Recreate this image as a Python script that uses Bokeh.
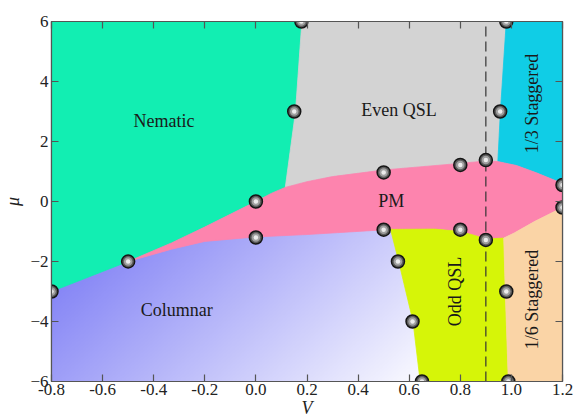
import numpy as np
from bokeh.plotting import figure
from bokeh.models import LinearAxis, FixedTicker, Range1d, NumeralTickFormatter, CustomJSTickFormatter
from bokeh.embed import file_html
from bokeh.resources import INLINE
from bokeh.core.properties import value

# ---------------- data ----------------
V_range = (-0.8, 1.2)
mu_range = (-6.0, 6.0)
x_ticks = [-0.8, -0.6, -0.4, -0.2, 0.0, 0.2, 0.4, 0.6, 0.8, 1.0, 1.2]
y_ticks = [-6, -4, -2, 0, 2, 4, 6]

# upper boundary of PM phase
pm_top_V = [-0.5, -0.33, -0.2, 0.0, 0.06, 0.115, 0.2, 0.3, 0.5, 0.8, 0.9, 0.947, 1.02, 1.1, 1.2]
pm_top_mu = [-2.0, -1.38, -0.85, 0.0, 0.27, 0.47, 0.66, 0.83, 1.05, 1.27, 1.35, 1.33, 1.2, 0.95, 0.6]
# lower boundary of PM phase
pm_bot_V = [-0.5, -0.33, -0.2, 0.0, 0.2, 0.527, 0.7, 0.8, 0.856, 0.9, 0.97, 1.011, 1.09, 1.2]
pm_bot_mu = [-2.0, -1.59, -1.33, -1.18, -1.1, -0.93, -0.92, -1.0, -1.13, -1.25, -1.22, -1.05, -0.67, -0.2]
# Nematic / Even QSL boundary
nem_even_V = [0.18, 0.155, 0.115]
nem_even_mu = [6.0, 3.0, 0.47]
# Even QSL / 1/3 Staggered boundary
even_13_V = [0.98, 0.957, 0.947]
even_13_mu = [6.0, 3.0, 1.33]
# Nematic / Columnar boundary
nem_col_V = [-0.8, -0.5]
nem_col_mu = [-3.0, -2.0]
# Columnar / Odd QSL boundary
odd_left_V = [0.527, 0.559, 0.615, 0.643]
odd_left_mu = [-0.93, -2.0, -4.0, -6.0]
# Odd QSL / 1/6 Staggered boundary
odd_right_V = [0.97, 0.976, 0.988]
odd_right_mu = [-1.22, -3.0, -6.0]

# computed transition points
pts_V = [-0.8, -0.5, 0.0, 0.0, 0.178, 0.15, 0.5, 0.5, 0.556, 0.613, 0.65,
         0.8, 0.8, 0.9, 0.9, 0.98, 0.956, 0.98, 0.988, 1.2, 1.2]
pts_mu = [-3.0, -2.0, 0.0, -1.2, 6.0, 3.0, 0.97, -0.94, -2.0, -4.0, -6.0,
          1.22, -0.94, 1.38, -1.28, 6.0, 3.0, -3.0, -6.0, 0.55, -0.2]

critical_V = 0.9

phase_names = ["Nematic", "Even QSL", "PM", "Columnar", "Odd QSL", "1/3 Staggered", "1/6 Staggered"]
label_V = [-0.36, 0.56, 0.53, -0.31, 0.78, 1.08, 1.08]
label_mu = [2.7, 3.05, 0.02, -3.63, -3.0, 3.27, -3.27]
label_angle = [0, 0, 0, 0, np.pi / 2, np.pi / 2, np.pi / 2]

# colours
c_nematic = "#12EEB2"
c_even = "#D3D3D3"
c_13 = "#10CDE6"
c_pm = "#FD84AE"
c_odd = "#D6F508"
c_16 = "#FAD4A6"
col_dark = (134, 134, 246)
col_light = (250, 250, 255)

# ---------------- polygons ----------------
i_ne = pm_top_V.index(0.115)
i_e13 = pm_top_V.index(0.947)
i_ol = pm_bot_V.index(0.527)
i_or = pm_bot_V.index(0.97)
v0, v1 = V_range
m0, m1 = mu_range

nem_x = [v0] + nem_even_V + pm_top_V[i_ne::-1] + nem_col_V[::-1][1:] + [v0]
nem_y = [m1] + nem_even_mu + pm_top_mu[i_ne::-1] + nem_col_mu[::-1][1:] + [m1]

even_x = nem_even_V[:1] + even_13_V + pm_top_V[i_e13:i_ne - 1:-1] + nem_even_V[::-1]
even_y = nem_even_mu[:1] + even_13_mu + pm_top_mu[i_e13:i_ne - 1:-1] + nem_even_mu[::-1]

s13_x = even_13_V[:1] + [v1] + pm_top_V[:i_e13 - 1:-1] + even_13_V[::-1]
s13_y = even_13_mu[:1] + [m1] + pm_top_mu[:i_e13 - 1:-1] + even_13_mu[::-1]

pm_x = pm_top_V + pm_bot_V[::-1]
pm_y = pm_top_mu + pm_bot_mu[::-1]

odd_x = odd_left_V + odd_right_V[::-1] + pm_bot_V[i_or:i_ol - 1:-1]
odd_y = odd_left_mu + odd_right_mu[::-1] + pm_bot_mu[i_or:i_ol - 1:-1]

s16_x = pm_bot_V[i_or:] + [v1] + odd_right_V[::-1]
s16_y = pm_bot_mu[i_or:] + [m0] + odd_right_mu[::-1]

xs = [nem_x, even_x, s13_x, pm_x, odd_x, s16_x]
ys = [nem_y, even_y, s13_y, pm_y, odd_y, s16_y]
cols = [c_nematic, c_even, c_13, c_pm, c_odd, c_16]

# gradient for Columnar phase (drawn behind everything)
nx, ny = 400, 300
GV, GM = np.meshgrid(np.linspace(v0, v1, nx), np.linspace(m0, m1, ny))
t = np.clip(0.55 * (GV - v0) + 0.07 * (-3.0 - GM), 0, 1)
img = np.empty((ny, nx), dtype=np.uint32)
view = img.view(dtype=np.uint8).reshape((ny, nx, 4))
for k in range(3):
    view[:, :, k] = (col_dark[k] + (col_light[k] - col_dark[k]) * t).astype(np.uint8)
view[:, :, 3] = 255

# ---------------- figure ----------------
FONT = "Liberation Serif"
p = figure(width=577, height=420, x_range=Range1d(v0, v1), y_range=Range1d(m0, m1),
           output_backend="svg", toolbar_location=None,
           min_border_left=46, min_border_right=15, min_border_top=21, min_border_bottom=38)
p.xgrid.visible = False
p.ygrid.visible = False
p.outline_line_color = "#555555"
p.outline_line_width = 1.2
p.background_fill_color = "white"

p.image_rgba(image=[img], x=v0, y=m0, dw=v1 - v0, dh=m1 - m0)
p.patches(xs, ys, fill_color=cols, line_color=cols, line_width=0.8)

p.line([critical_V, critical_V], [m0, m1], line_color="#333333", line_width=1.2, line_dash="10 5")

p.text(x=label_V, y=label_mu, text=phase_names, angle=label_angle,
       text_font=value(FONT), text_font_size="18px", text_color="#1a1a1a",
       text_align="center", text_baseline="middle")

p.scatter(pts_V, pts_mu, size=13, fill_color="#5c5c5c", line_color="#151515", line_width=1.5)
p.scatter(pts_V, pts_mu, size=8.5, fill_color="#a0a0a0", line_color=None)
p.scatter(pts_V, pts_mu, size=4.5, fill_color="#ececec", line_color=None)

# axes
for ax, ticks in ((p.xaxis[0], x_ticks), (p.yaxis[0], y_ticks)):
    ax.ticker = FixedTicker(ticks=ticks)
    ax.major_tick_in = 7
    ax.major_tick_out = 0
    ax.minor_tick_in = 0
    ax.minor_tick_out = 0
    ax.axis_line_color = "#555555"
    ax.axis_line_width = 1.2
    ax.major_tick_line_color = "#555555"
    ax.major_tick_line_width = 1.2
    ax.major_label_text_font = FONT
    ax.major_label_text_font_size = "17px"
    ax.major_label_text_color = "#222222"
    ax.axis_label_text_font = FONT
    ax.axis_label_text_font_size = "18px"
    ax.axis_label_text_font_style = "italic"
    ax.axis_label_text_color = "#222222"

p.xaxis[0].formatter = NumeralTickFormatter(format="0.0")
p.xaxis[0].axis_label = "V"
p.xaxis[0].major_label_standoff = 2
p.xaxis[0].axis_label_standoff = 0
p.yaxis[0].axis_label = "μ"
p.yaxis[0].major_label_standoff = 3
p.yaxis[0].axis_label_standoff = 4

for loc, ticks in (("above", x_ticks), ("right", y_ticks)):
    ax = LinearAxis(ticker=FixedTicker(ticks=ticks))
    ax.formatter = CustomJSTickFormatter(code="return '';")
    ax.major_tick_in = 7
    ax.major_tick_out = 0
    ax.minor_tick_in = 0
    ax.minor_tick_out = 0
    ax.axis_line_color = "#555555"
    ax.axis_line_width = 1.2
    ax.major_tick_line_color = "#555555"
    ax.major_tick_line_width = 1.2
    ax.major_label_standoff = 0
    p.add_layout(ax, loc)

open("out.html", "w").write(file_html(p, INLINE))
